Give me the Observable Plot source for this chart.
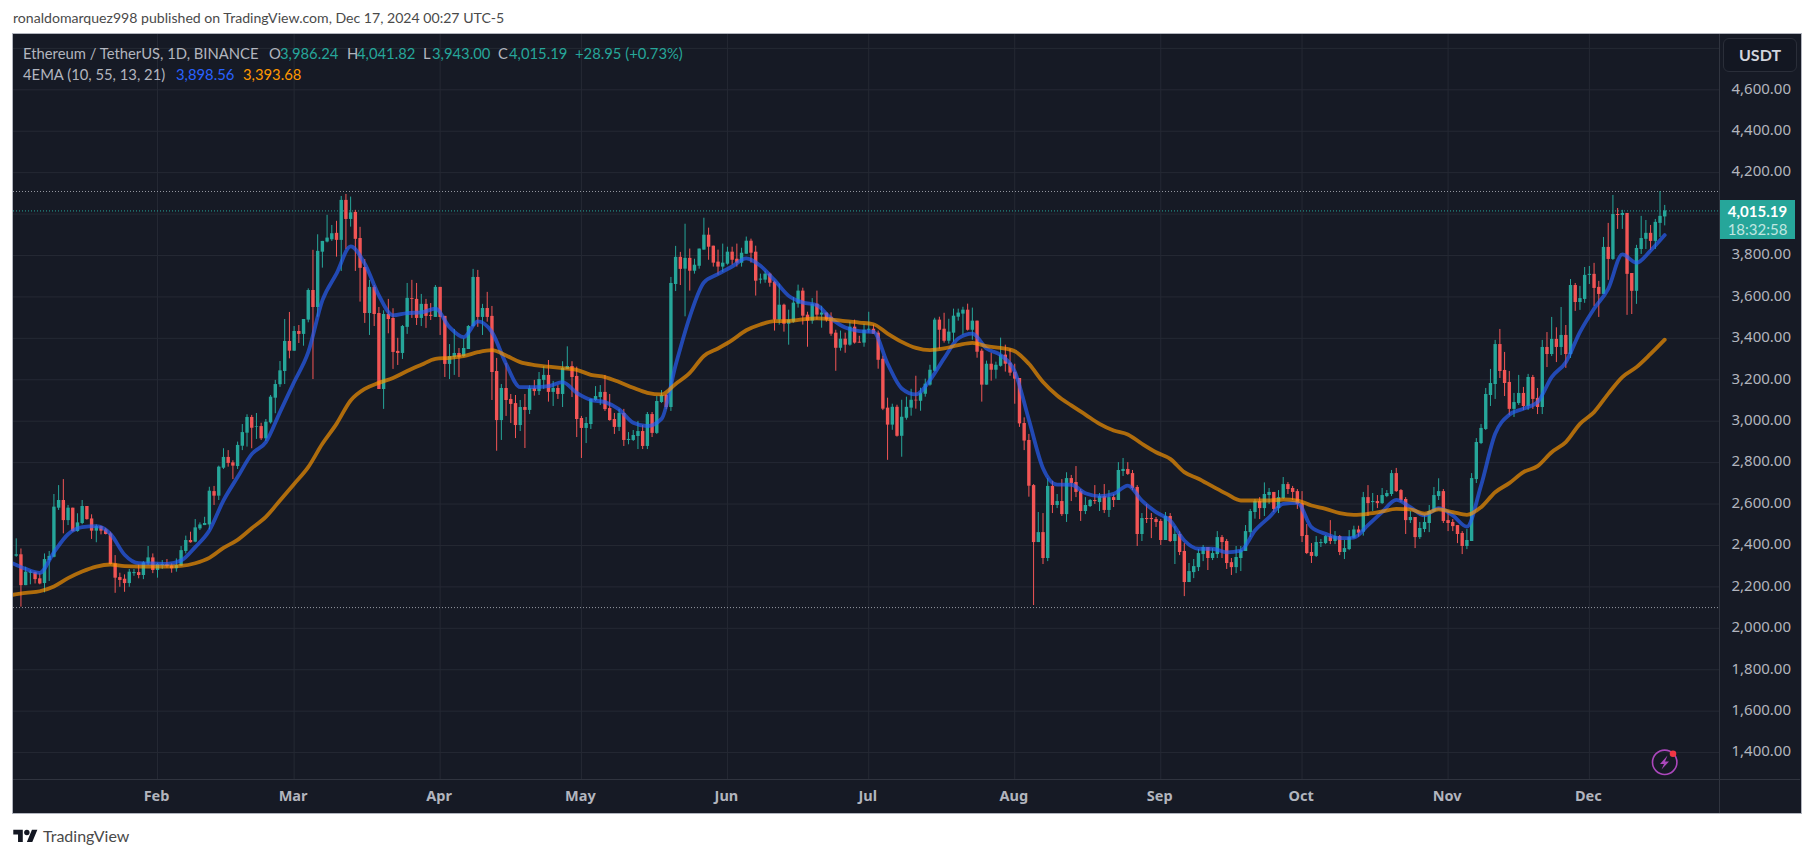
<!DOCTYPE html>
<html>
<head>
<meta charset="utf-8">
<script src="https://cdn.jsdelivr.net/npm/d3@7"></script>
<script src="https://cdn.jsdelivr.net/npm/@observablehq/plot@0.6"></script>
<style>
html,body{margin:0;padding:0;background:#fff;width:1814px;height:858px;overflow:hidden;font-family:"Lato","Noto Sans",sans-serif}
.abs{position:absolute;white-space:nowrap}
#frame{left:12px;top:33px;width:1788px;height:779px;background:#161a25;border:1px solid #b2b5be}
#chart{position:absolute;left:0;top:0}
#chart svg{display:block}
.leg{font-size:14.8px;line-height:18px;color:#b2b5be}
.up{color:#26a69a}
</style>
</head>
<body>
<div class="abs" style="left:13px;top:9px;font-size:14.1px;line-height:18px;color:#4a4a4a">ronaldomarquez998 published on TradingView.com, Dec 17, 2024 00:27 UTC-5</div>
<div class="abs" id="frame"></div>
<div id="chart"></div>

<div class="abs leg" style="left:23px;top:44px">Ethereum / TetherUS, 1D, BINANCE</div>
<div class="abs leg" style="left:269px;top:44px">O</div><div class="abs leg up" style="left:280px;top:44px">3,986.24</div>
<div class="abs leg" style="left:347px;top:44px">H</div><div class="abs leg up" style="left:357px;top:44px">4,041.82</div>
<div class="abs leg" style="left:423px;top:44px">L</div><div class="abs leg up" style="left:432px;top:44px">3,943.00</div>
<div class="abs leg" style="left:498px;top:44px">C</div><div class="abs leg up" style="left:509px;top:44px">4,015.19</div>
<div class="abs leg up" style="left:575px;top:44px">+28.95 (+0.73%)</div>
<div class="abs leg" style="left:23px;top:65px">4EMA (10, 55, 13, 21)</div>
<div class="abs leg" style="left:176px;top:65px;color:#2962ff">3,898.56</div>
<div class="abs leg" style="left:243px;top:65px;color:#ff9800">3,393.68</div>

<div class="abs" style="left:1723px;top:38px;width:72px;height:32px;border:1px solid #2a2e39;border-radius:6px;background:#131722;color:#d1d4dc;font-size:16px;font-weight:700;line-height:32px;text-align:center;box-sizing:content-box">USDT</div>

<div class="abs" style="left:1720px;top:200px;width:75px;height:39px;background:#26a69a;color:#fff;text-align:center;font-size:15px;line-height:18px;padding-top:1px;box-sizing:border-box">
  <div style="font-weight:700;margin-top:1px">4,015.19</div><div style="color:#c0e6e1">18:32:58</div>
</div>

<svg class="abs" style="left:1650px;top:748px" width="30" height="30" viewBox="0 0 30 30">
  <circle cx="14.7" cy="14.3" r="12.2" fill="none" stroke="#ab47bc" stroke-width="1.6"/>
  <path d="M17.5 7.5 L10 16 L14 16 L11.5 21.5 L19 13.5 L15 13.5 Z" fill="#ab47bc"/>
  <circle cx="23" cy="5.7" r="3.3" fill="#f23645"/>
</svg>

<svg class="abs" style="left:13px;top:827px" width="25" height="19" viewBox="0 0 36 28">
  <path d="M14 22H7V11H0V4h14v18zM28 22h-8l7.5-18h8L28 22z" fill="#131722"/>
  <circle cx="20" cy="8" r="4" fill="#131722"/>
</svg>
<div class="abs" style="left:43px;top:826px;font-size:16px;line-height:20px;color:#4a4a4a">TradingView</div>

<script>
// ---- ETH/USDT daily candles, Jan 2 – Dec 17 2024 ----
const opens = [
2348,2355,2206,2266,2268,2239,2216,2327,2343,2580,2617,2520,2580,2467,2506,2588,2528,2469,2491,2475,2456,2311,2245,2237,2216,2264,2269,2255,2311,2340,
2279,2303,2308,2301,2287,2300,2371,2424,2416,2480,2496,2499,2660,2638,2773,2825,2799,2781,2879,2942,3018,2971,2974,2915,2992,3111,3176,3240,3385,
3338,3433,3419,3488,3631,3549,3816,3865,3876,3907,3873,4066,3974,4008,3882,3742,3520,3646,3520,3153,3515,3496,3337,3327,3453,3592,3588,3496,3564,3511,3501,
3646,3506,3274,3308,3327,3312,3346,3457,3694,3501,3544,3506,3240,3003,3158,3105,3085,2979,3066,3052,3158,3143,3197,3221,3139,3158,3129,3250,3264,3216,
3013,2965,2984,3100,3114,3139,3061,3008,2970,3037,2907,2907,2926,2950,2878,3032,2941,3090,3124,3066,3660,3791,3734,3786,3724,3748,3826,3898,3845,3768,3744,
3758,3816,3782,3763,3806,3869,3816,3681,3681,3710,3671,3488,3560,3468,3478,3565,3628,3512,3483,3565,3512,3522,3502,3425,3352,3396,3367,3454,3381,3377,
3439,3444,3425,3299,3063,2981,3067,2927,3014,3063,3101,3096,3130,3174,3241,3488,3444,3386,3425,3502,3517,3536,3439,3483,3338,3174,3275,3246,3265,3319,3280,
3236,3206,2989,2907,2689,2414,2462,2337,2685,2593,2612,2549,2723,2704,2660,2564,2588,2617,2607,2636,2569,2631,2617,2757,2767,2747,2680,2453,2530,2530,2525,
2516,2424,2540,2419,2453,2371,2221,2269,2293,2356,2390,2337,2356,2438,2419,2317,2293,2337,2371,2462,2559,2612,2578,2641,2656,2578,2626,2694,2675,2660,
2602,2448,2366,2347,2409,2409,2443,2419,2443,2366,2380,2435,2475,2464,2631,2607,2612,2602,2636,2646,2747,2665,2622,2520,2535,2438,2477,2506,2564,2636,2660,
2520,2511,2496,2458,2395,2419,2718,2892,2960,3124,3177,3370,3245,3187,3057,3085,3134,3071,3211,3110,3066,3356,3322,3395,3356,3414,3322,3655,3573,3588,
3704,3709,3646,3612,3839,3781,3998,3993,4003,3713,3627,3829,3878,3907,3868,3955,3986.24
];
const highs = [
2432,2383,2295,2279,2271,2263,2359,2371,2646,2689,2718,2593,2580,2553,2617,2588,2548,2499,2493,2483,2464,2351,2266,2258,2284,2284,2306,2322,2395,2359,
2314,2327,2332,2311,2335,2395,2445,2464,2525,2509,2536,2681,2685,2783,2867,2858,2809,2899,2984,3031,3028,3037,2990,3008,3124,3197,3288,3491,3525,
3457,3462,3491,3639,3825,3900,3868,3994,3945,3965,4085,4095,4082,4018,3936,3781,3680,3655,3549,3533,3588,3543,3400,3462,3665,3680,3665,3612,3588,3568,3655,
3646,3506,3370,3443,3351,3398,3462,3733,3728,3564,3622,3554,3303,3177,3279,3129,3124,3100,3129,3171,3197,3235,3263,3293,3192,3172,3287,3359,3287,3261,
3023,3018,3108,3167,3172,3221,3129,3037,3057,3057,2945,2955,2999,2979,3042,3042,3119,3148,3129,3694,3844,3815,3951,3831,3782,3831,3980,3932,3845,3826,3855,
3840,3840,3855,3835,3889,3879,3845,3710,3724,3715,3676,3662,3565,3536,3597,3657,3642,3526,3592,3628,3555,3522,3523,3439,3435,3425,3478,3488,3410,3468,
3526,3464,3435,3314,3111,3082,3077,3101,3116,3154,3217,3159,3203,3270,3497,3502,3521,3492,3541,3541,3550,3565,3546,3483,3348,3290,3328,3285,3401,3367,3348,
3275,3206,3016,2936,2694,2559,2554,2723,2709,2646,2718,2751,2738,2781,2670,2631,2622,2689,2651,2694,2665,2646,2800,2820,2800,2762,2689,2554,2598,2554,2535,
2525,2559,2554,2491,2467,2409,2313,2332,2380,2400,2390,2385,2467,2448,2429,2337,2395,2395,2496,2574,2622,2631,2702,2675,2656,2665,2728,2704,2685,2670,
2660,2501,2409,2443,2429,2448,2520,2467,2448,2424,2472,2493,2493,2656,2689,2651,2641,2675,2665,2762,2772,2670,2631,2564,2535,2511,2544,2593,2680,2722,2670,
2564,2525,2496,2467,2477,2747,2916,2984,3158,3250,3390,3443,3332,3240,3134,3221,3163,3226,3221,3158,3390,3428,3501,3451,3549,3462,3684,3665,3651,3742,
3747,3762,3675,3887,3955,4090,4027,4018,4003,3713,3849,3989,3969,3945,3974,4109,4041.82
];
const lows = [
2343,2102,2206,2210,2214,2210,2171,2226,2340,2569,2456,2496,2464,2464,2500,2522,2429,2413,2451,2451,2306,2169,2198,2174,2198,2251,2239,2235,2303,2264,
2242,2284,2290,2266,2271,2298,2359,2411,2413,2472,2496,2475,2593,2617,2767,2778,2718,2767,2858,2875,2867,2912,2907,2902,2986,3036,3163,3177,3301,
3337,3375,3362,3475,3201,3502,3739,3861,3868,3792,3723,3829,3937,3723,3575,3472,3414,3457,3153,3057,3422,3250,3269,3298,3419,3496,3462,3457,3448,3486,3501,
3414,3211,3201,3221,3211,3309,3346,3453,3453,3414,3478,3100,2855,2907,3023,2989,2916,2950,2868,3032,3121,3124,3153,3092,3071,3105,3066,3250,3114,2921,
2820,2892,2960,3095,3076,3047,3000,2936,2950,2878,2886,2902,2863,2863,2863,2921,2936,3086,3056,3047,3626,3655,3504,3628,3710,3734,3826,3777,3744,3705,3718,
3753,3753,3744,3744,3806,3763,3604,3662,3666,3647,3435,3464,3430,3367,3473,3546,3464,3357,3468,3488,3449,3478,3410,3241,3338,3328,3362,3372,3377,3357,
3425,3420,3251,3051,2811,2956,2923,2826,3005,3024,3058,3048,3116,3169,3237,3348,3377,3372,3381,3483,3415,3435,3391,3304,3092,3174,3193,3203,3261,3237,3217,
3082,2970,2858,2633,2110,2414,2308,2322,2554,2578,2540,2511,2612,2631,2516,2549,2583,2598,2564,2554,2535,2583,2617,2733,2738,2665,2395,2419,2506,2433,2487,
2400,2424,2414,2308,2351,2153,2221,2240,2274,2322,2279,2327,2337,2337,2284,2255,2264,2274,2371,2438,2527,2525,2540,2598,2559,2554,2622,2646,2617,2574,
2414,2356,2313,2342,2390,2404,2404,2404,2351,2332,2375,2432,2440,2445,2540,2564,2578,2598,2631,2636,2656,2607,2453,2506,2385,2429,2462,2462,2559,2617,2506,
2467,2467,2409,2356,2380,2419,2699,2887,2955,3071,3105,3206,3119,3027,3018,3076,3052,3052,3057,3032,3032,3259,3312,3283,3317,3255,3303,3530,3535,3569,
3660,3554,3501,3612,3680,3776,3926,3926,3511,3515,3564,3805,3829,3824,3829,3887,3943
];
const closes = [
2355,2206,2271,2271,2235,2214,2332,2347,2585,2617,2520,2580,2467,2509,2588,2525,2469,2491,2469,2453,2308,2242,2231,2216,2271,2269,2255,2316,2340,2279,
2308,2308,2298,2287,2303,2375,2424,2413,2485,2499,2506,2662,2638,2778,2825,2796,2783,2883,2945,3018,2966,2974,2915,2995,3116,3177,3243,3385,3338,
3433,3419,3491,3631,3549,3820,3868,3884,3905,3873,4066,3974,4006,3878,3738,3520,3646,3515,3153,3515,3491,3332,3327,3457,3593,3588,3496,3564,3506,3506,3646,
3501,3274,3312,3327,3308,3351,3457,3694,3501,3544,3501,3235,3003,3158,3100,3081,2979,3066,3052,3158,3143,3201,3221,3139,3158,3129,3255,3264,3211,3008,
2965,2989,3105,3119,3139,3056,3003,2970,3037,2907,2912,2931,2950,2878,3032,2941,3095,3124,3066,3665,3791,3733,3786,3724,3753,3831,3898,3840,3763,3744,3763,
3816,3777,3763,3811,3869,3811,3676,3686,3710,3666,3488,3560,3468,3488,3570,3628,3507,3483,3565,3512,3522,3488,3420,3352,3396,3367,3454,3377,3377,3439,
3444,3420,3294,3058,2981,3067,2927,3019,3067,3101,3098,3135,3179,3246,3488,3439,3386,3430,3507,3522,3536,3439,3483,3333,3174,3275,3246,3270,3319,3275,3232,
3203,2987,2904,2686,2414,2462,2337,2685,2593,2612,2549,2723,2699,2656,2564,2593,2617,2612,2636,2569,2631,2617,2762,2767,2743,2675,2453,2530,2525,2525,2511,
2424,2540,2419,2453,2366,2221,2274,2298,2361,2390,2337,2361,2438,2414,2313,2293,2342,2375,2467,2564,2612,2578,2646,2656,2574,2631,2694,2670,2656,2598,
2443,2361,2347,2414,2414,2443,2419,2443,2366,2385,2438,2475,2459,2631,2602,2612,2602,2641,2651,2747,2660,2617,2520,2535,2438,2482,2511,2564,2641,2660,2516,
2506,2491,2453,2395,2424,2723,2897,2965,3129,3182,3370,3240,3182,3057,3090,3134,3071,3211,3105,3066,3356,3322,3395,3356,3414,3322,3655,3573,3592,3704,
3709,3641,3612,3839,3781,3998,3993,4003,3709,3627,3834,3882,3907,3868,3960,3989,4015.19
];

// ---- EMA lines, one reading every third day from Jan 1 to Dec 17 ----
const ema10 = [
2316,2287,2268,2367,2454,2488,2493,2456,2355,2314,2313,2311,2327,2392,2472,2617,2730,2841,2899,3044,3189,3333,3583,3712,3844,
3760,3607,3511,3522,3525,3543,3454,3406,3482,3430,3277,3164,3164,3169,3189,3137,3103,3092,3057,2992,2976,3011,3270,
3504,3670,3710,3747,3786,3750,3681,3605,3573,3560,3496,3452,3435,3431,3278,3158,3129,3198,3303,3399,3423,3351,3319,
3240,3007,2773,2694,2693,2652,2638,2649,2689,2617,2561,2520,2424,2384,2384,2367,2375,2472,2536,2601,2606,2488,2456,2435,
2438,2498,2561,2620,2585,2545,2580,2545,2491,2689,2939,3031,3060,3092,3213,3285,3430,3543,3639,3805,3765,3824,3898.56
];
const ema55 = [
2161,2171,2179,2202,2242,2274,2298,2308,2300,2298,2298,2298,2301,2314,2340,2388,2427,2483,2538,2617,2697,2778,2891,2987,3100,
3156,3185,3209,3242,3272,3301,3306,3314,3333,3343,3317,3285,3271,3263,3256,3248,3224,3213,3189,3161,3137,3129,3180,
3233,3315,3351,3391,3439,3467,3483,3484,3492,3496,3492,3483,3476,3468,3423,3383,3354,3343,3351,3367,3378,3362,3354,
3338,3277,3189,3124,3076,3032,2987,2955,2936,2891,2850,2818,2754,2722,2685,2649,2617,2617,2617,2622,2617,2593,2577,2556,
2548,2553,2564,2577,2574,2553,2574,2561,2548,2585,2657,2701,2754,2783,2850,2899,2987,3044,3132,3213,3261,3325,3393.68
];

// ---- axis ticks and reference levels ----
const monthLabels = ["2024-02-01","2024-03-01","2024-04-01","2024-05-01","2024-06-01","2024-07-01","2024-08-01","2024-09-01","2024-10-01","2024-11-01","2024-12-01"];
const priceGrid = [1400,1600,1800,2000,2200,2400,2600,2800,3000,3200,3400,3600,3800,4000,4200,4400,4600,4800];
const priceLabels = [1400,1600,1800,2000,2200,2400,2600,2800,3000,3200,3400,3600,3800,4200,4400,4600];
const visibleExtremes = [4109,2100];
const lastClose = [4015.19];

const days = d3.utcDay.range(new Date(Date.UTC(2024,0,2)), new Date(Date.UTC(2024,11,18)));
const candles = days.map((date,i)=>({date,open:opens[i],high:highs[i],low:lows[i],close:closes[i]}));
const up = candles.filter(d=>d.close>=d.open), down = candles.filter(d=>d.close<d.open);
const emaDays = d3.utcDay.range(new Date(Date.UTC(2024,0,1)), new Date(Date.UTC(2024,11,18)), 3);
const ema = emaDays.map((date,i)=>({date,fast:ema10[i],slow:ema55[i]}));
const months = monthLabels.map(s=>new Date(s+"T00:00:00Z"));

const GREEN="#26a69a", RED="#f25555", GRID="#252934", AXIS="#30343f";
const DAY=864e5, T0=Date.UTC(2024,0,1);

const chart = Plot.plot({
  width:1814, height:814,
  marginLeft:13, marginRight:95, marginTop:34, marginBottom:35,
  style:{background:"transparent",fontFamily:'"Noto Sans",sans-serif'},
  x:{type:"utc",domain:[new Date(T0+0.42*DAY),new Date(T0+362.63*DAY)]},
  y:{domain:[1270,4867]},
  marks:[
    Plot.ruleX(months,{stroke:GRID,strokeWidth:1}),
    Plot.ruleY(priceGrid,{stroke:GRID,strokeWidth:1}),
    Plot.ruleY(visibleExtremes,{stroke:"#9598a1",strokeWidth:1,strokeDasharray:"1 2"}),
    Plot.ruleY(lastClose,{stroke:GREEN,strokeWidth:1,strokeDasharray:"1 2"}),
    Plot.ruleX(up,{x:"date",y1:"low",y2:"high",stroke:GREEN,strokeWidth:1}),
    Plot.ruleX(down,{x:"date",y1:"low",y2:"high",stroke:RED,strokeWidth:1}),
    Plot.ruleX(up,{x:"date",y1:"open",y2:"close",stroke:GREEN,strokeWidth:3.4}),
    Plot.ruleX(down,{x:"date",y1:"open",y2:"close",stroke:RED,strokeWidth:3.4}),
    Plot.line(ema,{x:"date",y:"fast",curve:"monotone-x",stroke:"#2962ff",strokeOpacity:.66,strokeWidth:3.8,clip:true}),
    Plot.line(ema,{x:"date",y:"slow",curve:"monotone-x",stroke:"#ff9800",strokeOpacity:.66,strokeWidth:3.8,clip:true}),
    Plot.ruleY([1270],{stroke:AXIS,insetRight:-81}),
    Plot.ruleX([new Date(T0+362.63*DAY)],{stroke:AXIS,insetBottom:-34}),
    Plot.axisX({ticks:months,tickFormat:d3.utcFormat("%b"),tickSize:0,tickPadding:11,label:null,fill:"#b2b5be",fontWeight:700,fontSize:14.5,dx:-1}),
    Plot.axisY({anchor:"right",ticks:priceLabels,tickFormat:d3.format(",.2f"),tickSize:0,tickPadding:12,label:null,fill:"#b2b5be",fontSize:15,dy:-1})
  ]
});
document.getElementById("chart").append(chart);
if(opens.length!==days.length||highs.length!==days.length||lows.length!==days.length||closes.length!==days.length||ema10.length!==emaDays.length||ema55.length!==emaDays.length)
  console.error("length mismatch",opens.length,highs.length,lows.length,closes.length,days.length,ema10.length,ema55.length,emaDays.length);
</script>
</body>
</html>
